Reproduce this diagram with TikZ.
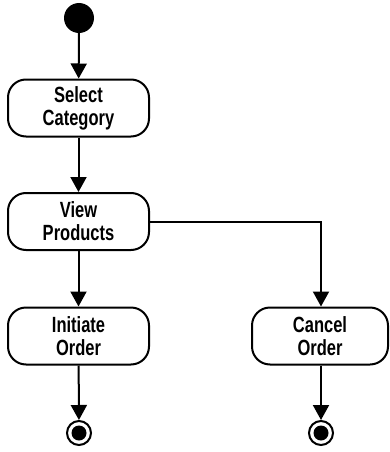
\documentclass[tikz,border=0pt]{standalone}
\usepackage{fontspec}
\setmainfont{Liberation Sans}[FakeStretch=0.75]
\usetikzlibrary{arrows.meta}
\begin{document}
\begin{tikzpicture}[x=1pt,y=-1pt,
  act/.style={draw,line width=2pt,rounded corners=18pt,minimum width=141pt,minimum height=57pt,align=center,inner sep=0pt,font=\fontsize{22}{23}\selectfont\bfseries},
  flow/.style={line width=2pt,-{Triangle[width=16pt,length=15pt]}},
  startnode/.style={circle,fill=black,minimum size=30pt,inner sep=0pt},
  endring/.style={circle,draw,line width=2pt,minimum size=24pt,inner sep=0pt},
  enddot/.style={circle,fill=black,minimum size=15pt,inner sep=0pt}]
\useasboundingbox (0,0) rectangle (389,452);
\node[startnode] (start) at (79,18) {};
\node[act] (sel) at (78.5,108) {Select\\Category};
\node[act] (view) at (78.5,221.5) {View\\Products};
\node[act] (init) at (78.5,336) {Initiate\\Order};
\node[act,minimum width=136pt] (cancel) at (320,336) {Cancel\\Order};
\node[endring] (end1) at (79,433) {};
\node[enddot] at (end1.center) {};
\node[endring] (end2) at (321,433) {};
\node[enddot] at (end2.center) {};
\coordinate (corner) at (321,221.5);
\draw[flow] (start) -- (sel);
\draw[flow] (sel) -- (view);
\draw[flow] (view) -- (init);
\draw[flow] (view.east) -- (corner) -- (cancel.north -| corner);
\draw[flow] (init) -- (end1);
\draw[flow] (cancel.south -| end2) -- (end2);
\end{tikzpicture}
\end{document}
